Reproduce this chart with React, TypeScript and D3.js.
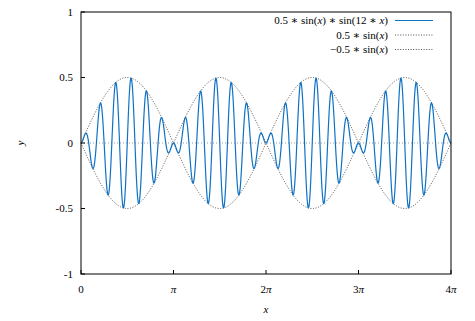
import React from 'react';
import * as d3 from 'd3';

// axis setup
const xDomain = [0, 4 * Math.PI];
const yDomain = [-1, 1];
const xTickMultiples = [0, 1, 2, 3, 4];
const xTickLabels = ['0', 'π', '2π', '3π', '4π'];
const yTicks = [-1, -0.5, 0, 0.5, 1];
const yTickLabels = ['-1', '-0.5', '0', '0.5', '1'];

// the plotted functions are the ones named in the legend
const seriesNames = ['carrier', 'upper', 'lower'];
const seriesAmplitude = [0.5, 0.5, -0.5];
const carrierFreq = 12;
const sampleCount = 1200;

const W = 475;
const H = 321;
const margin = { top: 12, right: 24, bottom: 47, left: 81 };
const FONT = '"Liberation Serif", "DejaVu Serif", serif';
const BLUE = '#0e72c4';

const samples = d3.range(sampleCount + 1).map(i => xDomain[0] + (i / sampleCount) * (xDomain[1] - xDomain[0]));
const seriesData = seriesNames.map((name, k) =>
  samples.map(x => ({
    x,
    y: name === 'carrier'
      ? seriesAmplitude[k] * Math.sin(x) * Math.sin(carrierFreq * x)
      : seriesAmplitude[k] * Math.sin(x),
  }))
);

const X = () => <tspan fontStyle="italic">x</tspan>;

const App = () => {
  const innerW = W - margin.left - margin.right;
  const innerH = H - margin.top - margin.bottom;

  const x = d3.scaleLinear().domain(xDomain).range([0, innerW]);
  const y = d3.scaleLinear().domain(yDomain).range([innerH, 0]);

  const line = d3
    .line<{ x: number; y: number }>()
    .x(d => x(d.x))
    .y(d => y(d.y));

  const legendRows = [
    { label: <>0.5 ∗ sin(<X />) ∗ sin(12 ∗ <X />)</>, stroke: BLUE, dash: undefined, width: 1.2 },
    { label: <>0.5 ∗ sin(<X />)</>, stroke: '#222', dash: '1,1.6', width: 0.8 },
    { label: <>−0.5 ∗ sin(<X />)</>, stroke: '#222', dash: '1,1.6', width: 0.8 },
  ];
  const legendY = [20.5, 35, 49.5];

  return (
    <svg
      width={W}
      height={H}
      style={{ position: 'fixed', left: 0, top: 0, background: '#fff' }}
      fontFamily={FONT}
      fontSize={11}
    >
      <rect width={W} height={H} fill="#fff" />
      <g transform={`translate(${margin.left},${margin.top})`}>
        {/* zero axis */}
        <line x1={0} x2={innerW} y1={y(0)} y2={y(0)} stroke="#9a9a9a" strokeWidth={1} strokeDasharray="1,2" />

        {/* envelopes */}
        <path d={line(seriesData[1]) || ''} fill="none" stroke="#222" strokeWidth={0.8} strokeDasharray="1,1.6" />
        <path d={line(seriesData[2]) || ''} fill="none" stroke="#222" strokeWidth={0.8} strokeDasharray="1,1.6" />

        {/* modulated signal */}
        <path d={line(seriesData[0]) || ''} fill="none" stroke={BLUE} strokeWidth={1.2} strokeLinejoin="round" />

        {/* frame */}
        <rect x={0} y={0} width={innerW} height={innerH} fill="none" stroke="#000" strokeWidth={1} />

        {/* y ticks */}
        {yTicks.map((t, i) => (
          <g key={`y${i}`}>
            <line x1={0} x2={4} y1={y(t)} y2={y(t)} stroke="#000" />
            <text x={-8} y={y(t)} dy="0.35em" textAnchor="end">{yTickLabels[i]}</text>
          </g>
        ))}

        {/* x ticks */}
        {xTickMultiples.map((m, i) => (
          <g key={`x${i}`}>
            <line x1={x(m * Math.PI)} x2={x(m * Math.PI)} y1={innerH} y2={innerH - 4} stroke="#000" />
            <text x={x(m * Math.PI)} y={innerH + 19} textAnchor="middle">
              {m > 1 ? m : ''}
              {m > 0 ? <tspan fontStyle="italic">π</tspan> : xTickLabels[0]}
            </text>
          </g>
        ))}

        {/* legend */}
        {legendRows.map((r, i) => (
          <g key={`l${i}`} transform={`translate(0,${legendY[i] - margin.top})`}>
            <text x={388 - margin.left} dy="0.35em" textAnchor="end">{r.label}</text>
            <line x1={395 - margin.left} x2={433 - margin.left} stroke={r.stroke} strokeWidth={r.width} strokeDasharray={r.dash} />
          </g>
        ))}
      </g>

      {/* axis titles */}
      <text x={margin.left + innerW / 2} y={313} textAnchor="middle" fontStyle="italic">x</text>
      <text transform={`translate(24,${margin.top + innerH / 2}) rotate(-90)`} textAnchor="middle" fontStyle="italic">y</text>
    </svg>
  );
};

export default App;
